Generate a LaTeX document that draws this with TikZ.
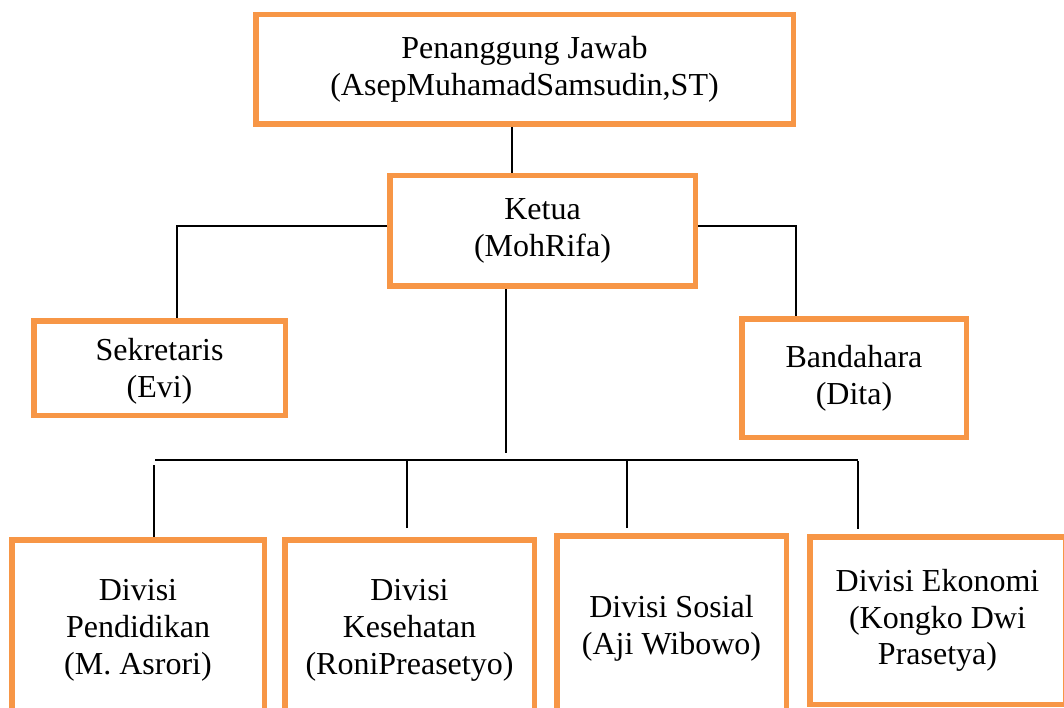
\documentclass[tikz,border=0pt]{standalone}
\usepackage{fontspec}
\setmainfont{Liberation Serif}
\usetikzlibrary{positioning}
\usetikzlibrary{calc}
\definecolor{jingga}{HTML}{F79646}

\tikzset{
	kotak/.style={draw=jingga, line width=5.5pt, align=center, inner sep=0pt, font=\fontsize{32}{36.8}\selectfont},
	garis/.style={line width=1.6pt, black}
}

\begin{document}
\begin{tikzpicture}[x=1pt,y=-1pt]
			\useasboundingbox (0,0) rectangle (1064,708);
			\clip (0,0) rectangle (1064,708);
			
			% Define the boxes
			\node[kotak, minimum width=537.5pt, minimum height=109.5pt] (pj) at (524.5,69.5) {Penanggung Jawab\\(AsepMuhamadSamsudin,ST)};
			\node[kotak, minimum width=305.5pt, minimum height=110.5pt] (ketua) at (542.5,231) {Ketua\\(MohRifa)};
			\node[kotak, minimum width=251.5pt, minimum height=94.5pt, text depth=0pt] (sek) at (159.5,368) {Sekretaris\\(Evi)};
			\node[kotak, minimum width=224.5pt, minimum height=118.5pt] (ben) at (854,378) {Bandahara\\(Dita)};
			
			\node[kotak, minimum width=252.5pt, minimum height=181.3pt] (pdk) at (138,630.4) {Divisi\\Pendidikan\\(M. Asrori)};
			\node[kotak, minimum width=249.5pt, minimum height=181.3pt] (kes) at (409.5,630.4) {Divisi\\Kesehatan\\(RoniPreasetyo)};
			\node[kotak, minimum width=229.5pt, minimum height=184.5pt] (sos) at (671.5,628) {Divisi Sosial\\(Aji Wibowo)};
			\node[kotak, minimum width=255.5pt, minimum height=167.5pt] (eko) at (937.5,620.5) {Divisi Ekonomi\\(Kongko Dwi\\Prasetya)};
			
			\coordinate (bagi-kiri) at (155,460);
			\coordinate (bagi-kanan) at (858,460);
			
			% Draw the lines
			\draw[garis] ([xshift=-12.5pt]pj.south) -- ([xshift=-30.5pt]ketua.north);
			\draw[garis] ([yshift=5pt]ketua.west) -| ([xshift=17.5pt]sek.north);
			\draw[garis] ([yshift=5pt]ketua.east) -| ([xshift=-58pt]ben.north);
			\draw[garis] ([xshift=-36.5pt]ketua.south) -- ++(0,164);
			\draw[garis] (bagi-kiri) -- (bagi-kanan);
			
			\draw[garis] ([xshift=16pt]pdk.north) -- ++(0,-72);
			\draw[garis] ([xshift=-2.5pt,yshift=9pt]kes.north) -- ++(0,-68);
			\draw[garis] ([xshift=-44.5pt,yshift=5pt]sos.north) -- ++(0,-68);
			\draw[garis] ([xshift=-79.5pt,yshift=5.5pt]eko.north) -- ++(0,-68);
\end{tikzpicture}
\end{document}
